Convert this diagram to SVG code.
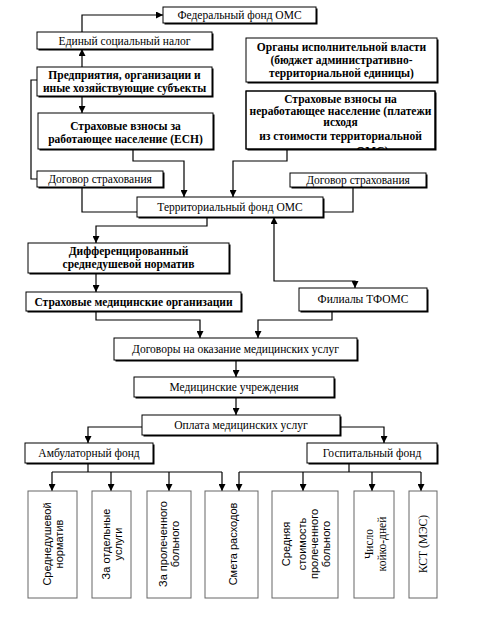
<svg xmlns="http://www.w3.org/2000/svg" width="482" height="617" viewBox="0 0 482 617">
<style>
.b{fill:#fff;stroke:#000;stroke-width:1}
.sh{fill:#000}
.v{fill:#fff;stroke:#666;stroke-width:1}
.t{font-family:"Liberation Serif","Times New Roman",serif;font-size:11.5px;fill:#000;text-anchor:middle}
.tb{font-family:"Liberation Serif","Times New Roman",serif;font-size:11.5px;font-weight:bold;fill:#000;text-anchor:middle}
.ts{font-family:"Liberation Sans",Arial,sans-serif;font-size:11px;fill:#000;text-anchor:middle}
.c{fill:none;stroke:#000;stroke-width:1.2}
</style>
<defs>
<marker id="ah" viewBox="0 0 8 8" refX="8" refY="4" markerWidth="7" markerHeight="7" orient="auto-start-reverse" markerUnits="userSpaceOnUse"><path d="M0,0 L8,4 L0,8 z" fill="#000"/></marker>
<clipPath id="clipN"><rect x="246" y="91" width="189" height="58"/></clipPath>
</defs>
<rect width="482" height="617" fill="#fff"/>

<g id="connectors">
<path class="c" d="M82,32 V15 H163" marker-end="url(#ah)"/>
<path class="c" d="M82,67 V49" marker-end="url(#ah)"/>
<path class="c" d="M82,96 V113" marker-end="url(#ah)"/>
<path class="c" d="M37,80 H31 V179 H37"/>
<path class="c" d="M133,149 V161 H184 V197" marker-end="url(#ah)"/>
<path class="c" d="M287,149 V161 H233 V197" marker-end="url(#ah)"/>
<path class="c" d="M82,187 V212 H137"/>
<path class="c" d="M353,187 V212 H323"/>
<path class="c" d="M207,217 V226 H96 V243" marker-end="url(#ah)"/>
<path class="c" d="M96,273 V292" marker-end="url(#ah)"/>
<path class="c" d="M274,217 V281 H355 V288" marker-start="url(#ah)" marker-end="url(#ah)"/>
<path class="c" d="M96,311 V320 H200 V338" marker-end="url(#ah)"/>
<path class="c" d="M332,311 V320 H258 V338" marker-end="url(#ah)"/>
<path class="c" d="M236,360 V377" marker-end="url(#ah)"/>
<path class="c" d="M236,397 V415" marker-end="url(#ah)"/>
<path class="c" d="M142,427 H88 V443" marker-end="url(#ah)"/>
<path class="c" d="M340,427 H384 V443" marker-end="url(#ah)"/>
<path class="c" d="M88,463 V472 M52,472 H222"/>
<path class="c" d="M52,472 V491" marker-end="url(#ah)"/>
<path class="c" d="M111,472 V491" marker-end="url(#ah)"/>
<path class="c" d="M169,472 V491" marker-end="url(#ah)"/>
<path class="c" d="M222,472 V491" marker-end="url(#ah)"/>
<path class="c" d="M349,463 V472 M239,472 H421"/>
<path class="c" d="M239,472 V491" marker-end="url(#ah)"/>
<path class="c" d="M303,472 V491" marker-end="url(#ah)"/>
<path class="c" d="M372,472 V491" marker-end="url(#ah)"/>
<path class="c" d="M421,472 V491" marker-end="url(#ah)"/>
</g>

<g id="federal"><rect class="sh" x="164.5" y="8.5" width="153" height="16"/><rect class="b" x="163" y="7" width="153" height="16"/><text class="t" x="239.5" y="19">Федеральный фонд ОМС</text></g>
<g id="esn"><rect class="sh" x="38.5" y="33.5" width="175" height="17"/><rect class="b" x="37" y="32" width="175" height="17"/><text class="t" x="124.5" y="44.5">Единый социальный налог</text></g>
<g id="enterprises"><rect class="sh" x="38.5" y="68.5" width="175" height="29"/><rect class="b" x="37" y="67" width="175" height="29"/><text class="tb" x="124.5" y="79">Предприятия, организации и</text><text class="tb" x="124.5" y="92">иные хозяйствующие субъекты</text></g>
<g id="working"><rect class="sh" x="39.5" y="114.5" width="175" height="36"/><rect class="b" x="38" y="113" width="175" height="36"/><text class="tb" x="125.5" y="130">Страховые взносы за</text><text class="tb" x="125.5" y="143">работающее население (ЕСН)</text></g>
<g id="authorities"><rect class="sh" x="247.5" y="39.5" width="191" height="44"/><rect class="b" x="246" y="38" width="191" height="44"/><text class="tb" x="341.5" y="51">Органы исполнительной власти</text><text class="tb" x="341.5" y="64">(бюджет административно-</text><text class="tb" x="341.5" y="77">территориальной единицы)</text></g>
<g id="nonworking"><rect class="sh" x="247.5" y="92.5" width="189" height="58"/><rect class="b" x="246" y="91" width="189" height="58"/><g clip-path="url(#clipN)"><text class="tb" x="340.5" y="103">Страховые взносы на</text><text class="tb" x="340.5" y="115">неработающее население (платежи</text><text class="tb" x="340.5" y="126">исходя</text><text class="tb" x="340.5" y="140">из стоимости территориальной</text><text class="tb" x="340.5" y="155">программы ОМС)</text></g><rect x="246" y="91" width="189" height="58" fill="none" stroke="#000"/></g>
<g id="contract-left"><rect class="sh" x="38.5" y="172.5" width="126" height="16"/><rect class="b" x="37" y="171" width="126" height="16"/><text class="t" x="100" y="183">Договор страхования</text></g>
<g id="contract-right"><rect class="sh" x="291.5" y="174.5" width="136" height="14"/><rect class="b" x="290" y="173" width="136" height="14"/><text class="t" x="358" y="184">Договор страхования</text></g>
<g id="tfoms"><rect class="sh" x="138.5" y="198.5" width="186" height="20"/><rect class="b" x="137" y="197" width="186" height="20"/><text class="t" x="230" y="211">Территориальный фонд ОМС</text></g>
<g id="differential"><rect class="sh" x="29.5" y="244.5" width="201" height="30"/><rect class="b" x="28" y="243" width="201" height="30"/><text class="tb" x="128.5" y="255">Дифференцированный</text><text class="tb" x="128.5" y="268">среднедушевой норматив</text></g>
<g id="smo"><rect class="sh" x="27.5" y="293.5" width="215" height="19"/><rect class="b" x="26" y="292" width="215" height="19"/><text class="tb" x="133.5" y="305.5">Страховые медицинские организации</text></g>
<g id="branches"><rect class="sh" x="300.5" y="289.5" width="128" height="23"/><rect class="b" x="299" y="288" width="128" height="23"/><text class="t" x="363" y="303">Филиалы ТФОМС</text></g>
<g id="contracts"><rect class="sh" x="115.5" y="339.5" width="243" height="22"/><rect class="b" x="114" y="338" width="243" height="22"/><text class="t" x="235.5" y="353">Договоры на оказание медицинских услуг</text></g>
<g id="institutions"><rect class="sh" x="135.5" y="378.5" width="200" height="20"/><rect class="b" x="134" y="377" width="200" height="20"/><text class="t" x="234" y="391">Медицинские учреждения</text></g>
<g id="payment"><rect class="sh" x="143.5" y="416.5" width="198" height="20"/><rect class="b" x="142" y="415" width="198" height="20"/><text class="t" x="241" y="429">Оплата медицинских услуг</text></g>
<g id="ambulatory"><rect class="sh" x="26.5" y="444.5" width="128" height="20"/><rect class="b" x="25" y="443" width="128" height="20"/><text class="t" x="89" y="457">Амбулаторный фонд</text></g>
<g id="hospital"><rect class="sh" x="308.5" y="444.5" width="130" height="20"/><rect class="b" x="307" y="443" width="130" height="20"/><text class="t" x="372" y="457">Госпитальный фонд</text></g>

<g id="per-capita"><rect class="v" x="28" y="491" width="49" height="107"/><g transform="translate(52.5,544) rotate(-90)"><text class="ts" x="0" y="-2">Среднедушевой</text><text class="ts" x="0" y="10">норматив</text></g></g>
<g id="per-service"><rect class="v" x="92" y="491" width="39" height="107"/><g transform="translate(111.5,544) rotate(-90)"><text class="ts" x="0" y="-2">За отдельные</text><text class="ts" x="0" y="10">услуги</text></g></g>
<g id="per-patient"><rect class="v" x="147" y="491" width="44" height="107"/><g transform="translate(169,544) rotate(-90)"><text class="ts" x="0" y="-2">За пролеченного</text><text class="ts" x="0" y="10">больного</text></g></g>
<g id="estimate"><rect class="v" x="205" y="491" width="53" height="107"/><g transform="translate(233,544) rotate(-90)"><text class="ts" x="0" y="4">Смета расходов</text></g></g>
<g id="avg-cost"><rect class="v" x="272" y="491" width="66" height="107"/><g transform="translate(305,544) rotate(-90)"><text class="ts" x="0" y="-15">Средняя</text><text class="ts" x="0" y="1">стоимость</text><text class="ts" x="0" y="13">пролеченного</text><text class="ts" x="0" y="25">больного</text></g></g>
<g id="bed-days"><rect class="v" x="354" y="491" width="40" height="107"/><g transform="translate(374,544) rotate(-90)"><text class="t" x="0" y="-1">Число</text><text class="t" x="0" y="12">койко-дней</text></g></g>
<g id="kst"><rect class="v" x="409" y="491" width="28" height="107"/><g transform="translate(423,544) rotate(-90)"><text class="t" x="0" y="4">КСТ (МЭС)</text></g></g>
</svg>
